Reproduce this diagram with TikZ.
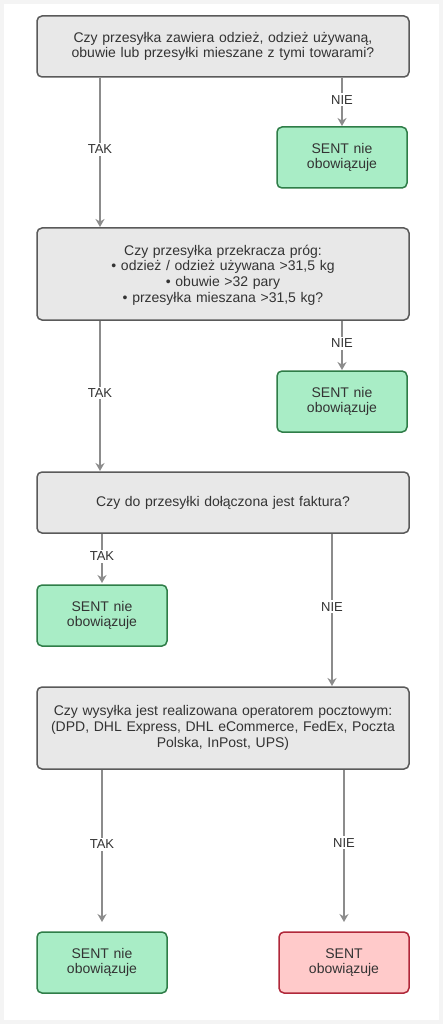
\documentclass[tikz,border=0pt]{standalone}
\usepackage{fontspec}
\setmainfont{Liberation Sans}
\usetikzlibrary{arrows.meta}
\definecolor{qfill}{HTML}{E8E8E8}
\definecolor{qdraw}{HTML}{5A5A5A}
\definecolor{gfill}{HTML}{A9EDC6}
\definecolor{gdraw}{HTML}{2F7D48}
\definecolor{rfill}{HTML}{FFCACA}
\definecolor{rdraw}{HTML}{B0283A}
\definecolor{arr}{HTML}{8C8C8C}
\definecolor{txt}{HTML}{333333}
\definecolor{edge}{HTML}{F4F4F4}
\newcommand{\myboxfont}{\fontsize{14}{15.7}\selectfont\lineskiplimit=-20pt\relax\lineskip=0pt\relax}
\tikzset{
  qbox/.style={draw=qdraw, fill=qfill, line width=1.5pt, rounded corners=5pt},
  gbox/.style={draw=gdraw, fill=gfill, line width=1.5pt, rounded corners=5pt},
  rbox/.style={draw=rdraw, fill=rfill, line width=1.5pt, rounded corners=5pt},
  btxt/.style={text=txt, font=\myboxfont, align=center, text width=360pt, inner sep=0pt},
  conn/.style={draw=arr, line width=1.8pt, -{Stealth[length=8pt,width=9pt]}},
  lbl/.style={fill=white, text=txt, font=\fontsize{13}{15}\selectfont, inner sep=2pt}
}
\begin{document}
\begin{tikzpicture}[x=1pt,y=-1pt]
\fill[edge] (0,0) rectangle (443,1024);
\fill[white] (4,4) rectangle (439,1020);
\useasboundingbox (0,0) rectangle (443,1024);

% boxes
\draw[qbox] (37,16) rectangle (409,77);
\node[btxt] (q1) at (223,46.5) {Czy przesyłka zawiera odzież, odzież używaną,\\obuwie lub przesyłki mieszane z tymi towarami?};
\draw[gbox] (277,127) rectangle (407,188);
\node[btxt] (g1) at (342,157.5) {SENT nie\\obowiązuje};

\draw[qbox] (37,228) rectangle (409,320);
\node[btxt] (q2) at (223,275) {Czy przesyłka przekracza próg:\\• odzież / odzież używana >31,5 kg\\• obuwie >32 pary\\• przesyłka mieszana >31,5 kg?};
\draw[gbox] (277,371) rectangle (407,432);
\node[btxt] (g2) at (342,401.5) {SENT nie\\obowiązuje};

\draw[qbox] (37,472) rectangle (409,533);
\node[btxt] (q3) at (223,502.5) {Czy do przesyłki dołączona jest faktura?};
\draw[gbox] (37,585) rectangle (167,646);
\node[btxt] (g3) at (102,615.5) {SENT nie\\obowiązuje};

\draw[qbox] (37,687) rectangle (409,769);
\node[btxt] (q4) at (223,728) {Czy wysyłka jest realizowana operatorem pocztowym:\\(DPD, DHL Express, DHL eCommerce, FedEx, Poczta\\Polska, InPost, UPS)};
\draw[gbox] (37,932) rectangle (167,993);
\node[btxt] (g4) at (102,962.5) {SENT nie\\obowiązuje};
\draw[rbox] (279,932) rectangle (409,993);
\node[btxt] (r1) at (344,962.5) {SENT\\obowiązuje};

% anchor coordinates
\coordinate (q1tak) at (100,78);
\coordinate (q2top) at (100,227);
\coordinate (q1nie) at (342,78);
\coordinate (g1top) at (342,126);
\coordinate (q2nie) at (342,321);
\coordinate (g2top) at (342,370);
\coordinate (q2tak) at (100,321);
\coordinate (q3top) at (100,471);
\coordinate (q3tak) at (102,534);
\coordinate (g3top) at (102,583);
\coordinate (q3nie) at (332,534);
\coordinate (q4top) at (332,686);
\coordinate (q4tak) at (102,770);
\coordinate (g4top) at (102,922);
\coordinate (q4nie) at (344,770);
\coordinate (r1top) at (344,922);

\draw[conn] (q1tak) -- node[lbl, pos=0.48]{TAK} (q2top);
\draw[conn] (q1nie) -- node[lbl, pos=0.45]{NIE} (g1top);
\draw[conn] (q2tak) -- node[lbl, pos=0.48]{TAK} (q3top);
\draw[conn] (q2nie) -- node[lbl, pos=0.45]{NIE} (g2top);
\draw[conn] (q3tak) -- node[lbl, pos=0.45]{TAK} (g3top);
\draw[conn] (q3nie) -- node[lbl, pos=0.48]{NIE} (q4top);
\draw[conn] (q4tak) -- node[lbl, pos=0.49]{TAK} (g4top);
\draw[conn] (q4nie) -- node[lbl, pos=0.48]{NIE} (r1top);
\end{tikzpicture}
\end{document}
